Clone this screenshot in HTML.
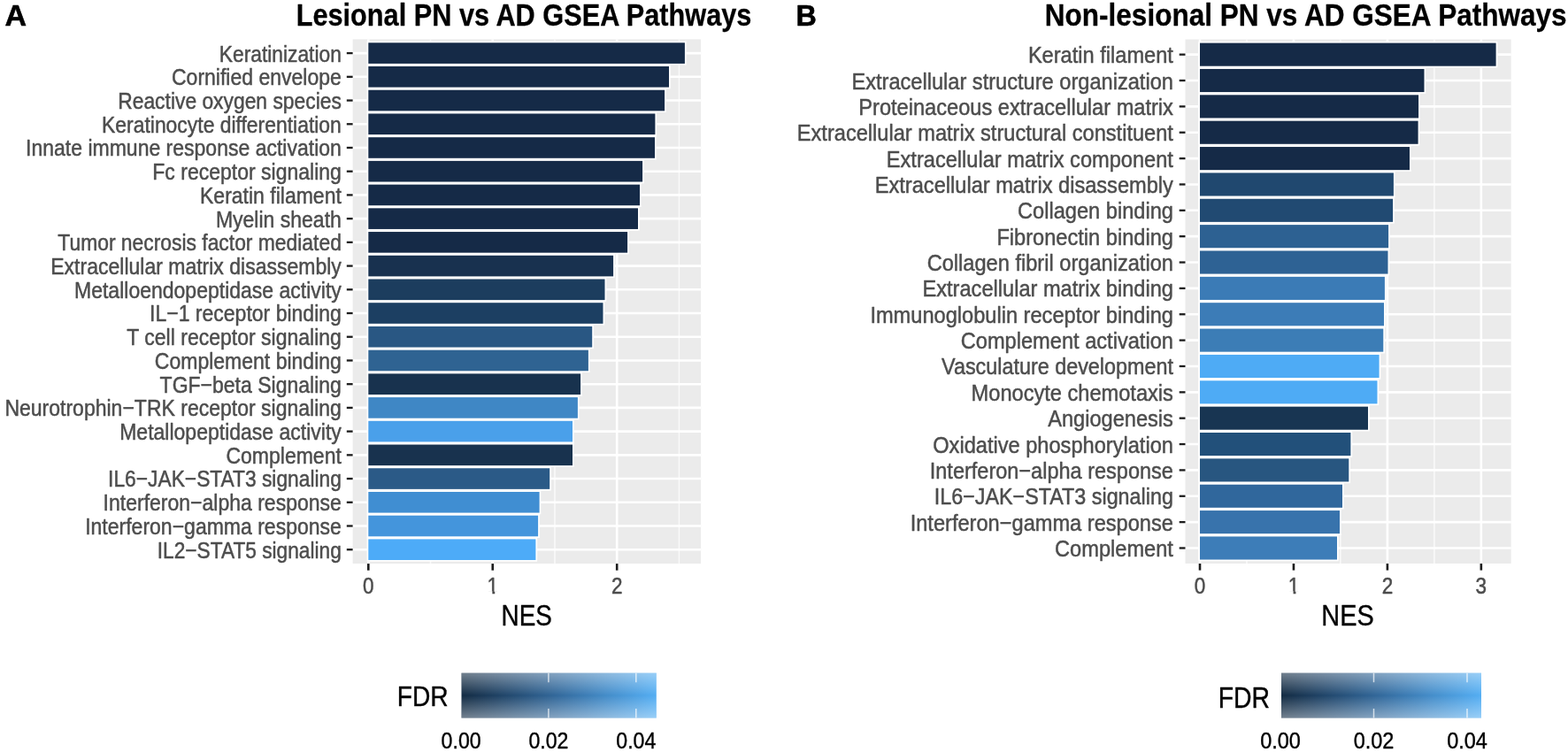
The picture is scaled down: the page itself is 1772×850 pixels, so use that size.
<!DOCTYPE html>
<html lang="en">
<head>
<meta charset="utf-8">
<title>GSEA Pathways: Lesional and Non-lesional PN vs AD</title>
<style>
html,body{margin:0;padding:0;background:#fff;}
body{width:1772px;height:850px;overflow:hidden;}
svg{display:block;filter:blur(0.4px);}
text{font-family:'Liberation Sans', sans-serif;}
</style>
</head>
<body>
<svg width="1772" height="850" viewBox="0 0 1772 850" role="img" aria-label="GSEA pathway bar charts">
<defs>
<linearGradient id="gh" x1="0" x2="1" y1="0" y2="0">
<stop offset="0" stop-color="#132b43"/>
<stop offset="0.25" stop-color="#234a70"/>
<stop offset="0.5" stop-color="#336a9d"/>
<stop offset="0.75" stop-color="#448dca"/>
<stop offset="1" stop-color="#54aef3"/>
</linearGradient>
<linearGradient id="gv" x1="0" x2="0" y1="0" y2="1">
<stop offset="0" stop-color="#fff" stop-opacity=".4"/>
<stop offset="0.5" stop-color="#fff" stop-opacity="0"/>
<stop offset="1" stop-color="#fff" stop-opacity=".4"/>
</linearGradient>
</defs>
<rect width="1772" height="850" fill="#fff"/>
<g id="panelA">
<rect x="398.6" y="44.4" width="393.5" height="592.7" fill="#ebebeb"/>
<line x1="486.52" x2="486.52" y1="44.4" y2="637.1" stroke="#fafafa" stroke-width="1.5"/>
<line x1="626.98" x2="626.98" y1="44.4" y2="637.1" stroke="#fafafa" stroke-width="1.5"/>
<line x1="767.42" x2="767.42" y1="44.4" y2="637.1" stroke="#fafafa" stroke-width="1.5"/>
<line x1="416.3" x2="416.3" y1="44.4" y2="637.1" stroke="#fff" stroke-width="2.6"/>
<line x1="556.75" x2="556.75" y1="44.4" y2="637.1" stroke="#fff" stroke-width="2.6"/>
<line x1="697.2" x2="697.2" y1="44.4" y2="637.1" stroke="#fff" stroke-width="2.6"/>
<line x1="398.6" x2="792.1" y1="60.1" y2="60.1" stroke="#fff" stroke-width="2.6"/>
<line x1="398.6" x2="792.1" y1="86.82" y2="86.82" stroke="#fff" stroke-width="2.6"/>
<line x1="398.6" x2="792.1" y1="113.54" y2="113.54" stroke="#fff" stroke-width="2.6"/>
<line x1="398.6" x2="792.1" y1="140.26" y2="140.26" stroke="#fff" stroke-width="2.6"/>
<line x1="398.6" x2="792.1" y1="166.98" y2="166.98" stroke="#fff" stroke-width="2.6"/>
<line x1="398.6" x2="792.1" y1="193.7" y2="193.7" stroke="#fff" stroke-width="2.6"/>
<line x1="398.6" x2="792.1" y1="220.42" y2="220.42" stroke="#fff" stroke-width="2.6"/>
<line x1="398.6" x2="792.1" y1="247.14" y2="247.14" stroke="#fff" stroke-width="2.6"/>
<line x1="398.6" x2="792.1" y1="273.86" y2="273.86" stroke="#fff" stroke-width="2.6"/>
<line x1="398.6" x2="792.1" y1="300.58" y2="300.58" stroke="#fff" stroke-width="2.6"/>
<line x1="398.6" x2="792.1" y1="327.3" y2="327.3" stroke="#fff" stroke-width="2.6"/>
<line x1="398.6" x2="792.1" y1="354.02" y2="354.02" stroke="#fff" stroke-width="2.6"/>
<line x1="398.6" x2="792.1" y1="380.74" y2="380.74" stroke="#fff" stroke-width="2.6"/>
<line x1="398.6" x2="792.1" y1="407.46" y2="407.46" stroke="#fff" stroke-width="2.6"/>
<line x1="398.6" x2="792.1" y1="434.18" y2="434.18" stroke="#fff" stroke-width="2.6"/>
<line x1="398.6" x2="792.1" y1="460.9" y2="460.9" stroke="#fff" stroke-width="2.6"/>
<line x1="398.6" x2="792.1" y1="487.62" y2="487.62" stroke="#fff" stroke-width="2.6"/>
<line x1="398.6" x2="792.1" y1="514.34" y2="514.34" stroke="#fff" stroke-width="2.6"/>
<line x1="398.6" x2="792.1" y1="541.06" y2="541.06" stroke="#fff" stroke-width="2.6"/>
<line x1="398.6" x2="792.1" y1="567.78" y2="567.78" stroke="#fff" stroke-width="2.6"/>
<line x1="398.6" x2="792.1" y1="594.5" y2="594.5" stroke="#fff" stroke-width="2.6"/>
<line x1="398.6" x2="792.1" y1="621.22" y2="621.22" stroke="#fff" stroke-width="2.6"/>
<rect x="414.6" y="46.6" width="361" height="27" fill="#fff"/>
<rect x="414.6" y="73.32" width="343.1" height="27" fill="#fff"/>
<rect x="414.6" y="100.04" width="338.2" height="27" fill="#fff"/>
<rect x="414.6" y="126.76" width="327.5" height="27" fill="#fff"/>
<rect x="414.6" y="153.48" width="327.1" height="27" fill="#fff"/>
<rect x="414.6" y="180.2" width="313.2" height="27" fill="#fff"/>
<rect x="414.6" y="206.92" width="310.1" height="27" fill="#fff"/>
<rect x="414.6" y="233.64" width="308.1" height="27" fill="#fff"/>
<rect x="414.6" y="260.36" width="296.2" height="27" fill="#fff"/>
<rect x="414.6" y="287.08" width="280.2" height="27" fill="#fff"/>
<rect x="414.6" y="313.8" width="270.6" height="27" fill="#fff"/>
<rect x="414.6" y="340.52" width="268.6" height="27" fill="#fff"/>
<rect x="414.6" y="367.24" width="256.3" height="27" fill="#fff"/>
<rect x="414.6" y="393.96" width="252" height="27" fill="#fff"/>
<rect x="414.6" y="420.68" width="243.2" height="27" fill="#fff"/>
<rect x="414.6" y="447.4" width="240" height="27" fill="#fff"/>
<rect x="414.6" y="474.12" width="234.1" height="27" fill="#fff"/>
<rect x="414.6" y="500.84" width="234.1" height="27" fill="#fff"/>
<rect x="414.6" y="527.56" width="208.3" height="27" fill="#fff"/>
<rect x="414.6" y="554.28" width="196.7" height="27" fill="#fff"/>
<rect x="414.6" y="581" width="195.2" height="27" fill="#fff"/>
<rect x="414.6" y="607.72" width="192.5" height="27" fill="#fff"/>
<rect x="416.3" y="48.3" width="357.6" height="23.6" fill="#152a47"/>
<rect x="416.3" y="75.02" width="339.7" height="23.6" fill="#152a47"/>
<rect x="416.3" y="101.74" width="334.8" height="23.6" fill="#152a47"/>
<rect x="416.3" y="128.46" width="324.1" height="23.6" fill="#152a47"/>
<rect x="416.3" y="155.18" width="323.7" height="23.6" fill="#152a47"/>
<rect x="416.3" y="181.9" width="309.8" height="23.6" fill="#152a47"/>
<rect x="416.3" y="208.62" width="306.7" height="23.6" fill="#152a47"/>
<rect x="416.3" y="235.34" width="304.7" height="23.6" fill="#152a47"/>
<rect x="416.3" y="262.06" width="292.8" height="23.6" fill="#152a47"/>
<rect x="416.3" y="288.78" width="276.8" height="23.6" fill="#18314f"/>
<rect x="416.3" y="315.5" width="267.2" height="23.6" fill="#1c3d5e"/>
<rect x="416.3" y="342.22" width="265.2" height="23.6" fill="#1c3f62"/>
<rect x="416.3" y="368.94" width="252.9" height="23.6" fill="#295783"/>
<rect x="416.3" y="395.66" width="248.6" height="23.6" fill="#2f6392"/>
<rect x="416.3" y="422.38" width="239.8" height="23.6" fill="#18324e"/>
<rect x="416.3" y="449.1" width="236.6" height="23.6" fill="#3f87c5"/>
<rect x="416.3" y="475.82" width="230.7" height="23.6" fill="#4aa0ea"/>
<rect x="416.3" y="502.54" width="230.7" height="23.6" fill="#18324e"/>
<rect x="416.3" y="529.26" width="204.9" height="23.6" fill="#2b5a87"/>
<rect x="416.3" y="555.98" width="193.3" height="23.6" fill="#408ed2"/>
<rect x="416.3" y="582.7" width="191.8" height="23.6" fill="#4495dc"/>
<rect x="416.3" y="609.42" width="189.1" height="23.6" fill="#4dabf8"/>
<line x1="391.8" x2="398.6" y1="60.1" y2="60.1" stroke="#1c1c1c" stroke-width="2.3"/>
<line x1="391.8" x2="398.6" y1="86.82" y2="86.82" stroke="#1c1c1c" stroke-width="2.3"/>
<line x1="391.8" x2="398.6" y1="113.54" y2="113.54" stroke="#1c1c1c" stroke-width="2.3"/>
<line x1="391.8" x2="398.6" y1="140.26" y2="140.26" stroke="#1c1c1c" stroke-width="2.3"/>
<line x1="391.8" x2="398.6" y1="166.98" y2="166.98" stroke="#1c1c1c" stroke-width="2.3"/>
<line x1="391.8" x2="398.6" y1="193.7" y2="193.7" stroke="#1c1c1c" stroke-width="2.3"/>
<line x1="391.8" x2="398.6" y1="220.42" y2="220.42" stroke="#1c1c1c" stroke-width="2.3"/>
<line x1="391.8" x2="398.6" y1="247.14" y2="247.14" stroke="#1c1c1c" stroke-width="2.3"/>
<line x1="391.8" x2="398.6" y1="273.86" y2="273.86" stroke="#1c1c1c" stroke-width="2.3"/>
<line x1="391.8" x2="398.6" y1="300.58" y2="300.58" stroke="#1c1c1c" stroke-width="2.3"/>
<line x1="391.8" x2="398.6" y1="327.3" y2="327.3" stroke="#1c1c1c" stroke-width="2.3"/>
<line x1="391.8" x2="398.6" y1="354.02" y2="354.02" stroke="#1c1c1c" stroke-width="2.3"/>
<line x1="391.8" x2="398.6" y1="380.74" y2="380.74" stroke="#1c1c1c" stroke-width="2.3"/>
<line x1="391.8" x2="398.6" y1="407.46" y2="407.46" stroke="#1c1c1c" stroke-width="2.3"/>
<line x1="391.8" x2="398.6" y1="434.18" y2="434.18" stroke="#1c1c1c" stroke-width="2.3"/>
<line x1="391.8" x2="398.6" y1="460.9" y2="460.9" stroke="#1c1c1c" stroke-width="2.3"/>
<line x1="391.8" x2="398.6" y1="487.62" y2="487.62" stroke="#1c1c1c" stroke-width="2.3"/>
<line x1="391.8" x2="398.6" y1="514.34" y2="514.34" stroke="#1c1c1c" stroke-width="2.3"/>
<line x1="391.8" x2="398.6" y1="541.06" y2="541.06" stroke="#1c1c1c" stroke-width="2.3"/>
<line x1="391.8" x2="398.6" y1="567.78" y2="567.78" stroke="#1c1c1c" stroke-width="2.3"/>
<line x1="391.8" x2="398.6" y1="594.5" y2="594.5" stroke="#1c1c1c" stroke-width="2.3"/>
<line x1="391.8" x2="398.6" y1="621.22" y2="621.22" stroke="#1c1c1c" stroke-width="2.3"/>
<text transform="translate(385.85 69.5) scale(0.8770 1)" font-size="26" fill="#4d4d4d" stroke="#4d4d4d" stroke-width="0.5" stroke-linejoin="round" text-anchor="end">Keratinization</text>
<text transform="translate(385.85 96.22) scale(0.8850 1)" font-size="26" fill="#4d4d4d" stroke="#4d4d4d" stroke-width="0.5" stroke-linejoin="round" text-anchor="end">Cornified envelope</text>
<text transform="translate(385.85 122.94) scale(0.8784 1)" font-size="26" fill="#4d4d4d" stroke="#4d4d4d" stroke-width="0.5" stroke-linejoin="round" text-anchor="end">Reactive oxygen species</text>
<text transform="translate(385.85 149.66) scale(0.8811 1)" font-size="26" fill="#4d4d4d" stroke="#4d4d4d" stroke-width="0.5" stroke-linejoin="round" text-anchor="end">Keratinocyte differentiation</text>
<text transform="translate(385.85 176.38) scale(0.8850 1)" font-size="26" fill="#4d4d4d" stroke="#4d4d4d" stroke-width="0.5" stroke-linejoin="round" text-anchor="end">Innate immune response activation</text>
<text transform="translate(385.85 203.1) scale(0.8850 1)" font-size="26" fill="#4d4d4d" stroke="#4d4d4d" stroke-width="0.5" stroke-linejoin="round" text-anchor="end">Fc receptor signaling</text>
<text transform="translate(385.85 229.82) scale(0.8850 1)" font-size="26" fill="#4d4d4d" stroke="#4d4d4d" stroke-width="0.5" stroke-linejoin="round" text-anchor="end">Keratin filament</text>
<text transform="translate(385.85 256.54) scale(0.8850 1)" font-size="26" fill="#4d4d4d" stroke="#4d4d4d" stroke-width="0.5" stroke-linejoin="round" text-anchor="end">Myelin sheath</text>
<text transform="translate(385.85 283.26) scale(0.8797 1)" font-size="26" fill="#4d4d4d" stroke="#4d4d4d" stroke-width="0.5" stroke-linejoin="round" text-anchor="end">Tumor necrosis factor mediated</text>
<text transform="translate(385.85 309.98) scale(0.8850 1)" font-size="26" fill="#4d4d4d" stroke="#4d4d4d" stroke-width="0.5" stroke-linejoin="round" text-anchor="end">Extracellular matrix disassembly</text>
<text transform="translate(385.85 336.7) scale(0.8850 1)" font-size="26" fill="#4d4d4d" stroke="#4d4d4d" stroke-width="0.5" stroke-linejoin="round" text-anchor="end">Metalloendopeptidase activity</text>
<text transform="translate(385.85 363.42) scale(0.8850 1)" font-size="26" fill="#4d4d4d" stroke="#4d4d4d" stroke-width="0.5" stroke-linejoin="round" text-anchor="end">IL−1 receptor binding</text>
<text transform="translate(385.85 390.14) scale(0.8850 1)" font-size="26" fill="#4d4d4d" stroke="#4d4d4d" stroke-width="0.5" stroke-linejoin="round" text-anchor="end">T cell receptor signaling</text>
<text transform="translate(385.85 416.86) scale(0.8850 1)" font-size="26" fill="#4d4d4d" stroke="#4d4d4d" stroke-width="0.5" stroke-linejoin="round" text-anchor="end">Complement binding</text>
<text transform="translate(385.85 443.58) scale(0.8850 1)" font-size="26" fill="#4d4d4d" stroke="#4d4d4d" stroke-width="0.5" stroke-linejoin="round" text-anchor="end">TGF−beta Signaling</text>
<text transform="translate(385.85 470.3) scale(0.8850 1)" font-size="26" fill="#4d4d4d" stroke="#4d4d4d" stroke-width="0.5" stroke-linejoin="round" text-anchor="end">Neurotrophin−TRK receptor signaling</text>
<text transform="translate(385.85 497.02) scale(0.8850 1)" font-size="26" fill="#4d4d4d" stroke="#4d4d4d" stroke-width="0.5" stroke-linejoin="round" text-anchor="end">Metallopeptidase activity</text>
<text transform="translate(385.85 523.74) scale(0.8850 1)" font-size="26" fill="#4d4d4d" stroke="#4d4d4d" stroke-width="0.5" stroke-linejoin="round" text-anchor="end">Complement</text>
<text transform="translate(385.85 550.46) scale(0.8761 1)" font-size="26" fill="#4d4d4d" stroke="#4d4d4d" stroke-width="0.5" stroke-linejoin="round" text-anchor="end">IL6−JAK−STAT3 signaling</text>
<text transform="translate(385.85 577.18) scale(0.8850 1)" font-size="26" fill="#4d4d4d" stroke="#4d4d4d" stroke-width="0.5" stroke-linejoin="round" text-anchor="end">Interferon−alpha response</text>
<text transform="translate(385.85 603.9) scale(0.8850 1)" font-size="26" fill="#4d4d4d" stroke="#4d4d4d" stroke-width="0.5" stroke-linejoin="round" text-anchor="end">Interferon−gamma response</text>
<text transform="translate(385.85 630.62) scale(0.8739 1)" font-size="26" fill="#4d4d4d" stroke="#4d4d4d" stroke-width="0.5" stroke-linejoin="round" text-anchor="end">IL2−STAT5 signaling</text>
<line x1="416.3" x2="416.3" y1="637.1" y2="644.7" stroke="#1c1c1c" stroke-width="2.6"/>
<text transform="translate(416.3 670.7) scale(0.9000 1)" font-size="25" fill="#4d4d4d" stroke="#4d4d4d" stroke-width="0.5" stroke-linejoin="round" text-anchor="middle">0</text>
<line x1="556.75" x2="556.75" y1="637.1" y2="644.7" stroke="#1c1c1c" stroke-width="2.6"/>
<text transform="translate(556.75 670.7) scale(0.9000 1)" font-size="25" fill="#4d4d4d" stroke="#4d4d4d" stroke-width="0.5" stroke-linejoin="round" text-anchor="middle">1</text>
<rect x="550.75" y="668.25" width="5.6" height="4.6" fill="#fff"/>
<rect x="559.25" y="668.25" width="5.6" height="4.6" fill="#fff"/>
<line x1="697.2" x2="697.2" y1="637.1" y2="644.7" stroke="#1c1c1c" stroke-width="2.6"/>
<text transform="translate(697.2 670.7) scale(0.9000 1)" font-size="25" fill="#4d4d4d" stroke="#4d4d4d" stroke-width="0.5" stroke-linejoin="round" text-anchor="middle">2</text>
<text transform="translate(595.2 706.5) scale(0.8360 1)" font-size="33.3" fill="#000" stroke="#000" stroke-width="0.4" stroke-linejoin="round" text-anchor="middle">NES</text>
<text transform="translate(849.4 29) scale(0.8650 1)" font-size="35.5" fill="#000" stroke="#000" stroke-width="0.3" stroke-linejoin="round" text-anchor="end" font-weight="bold">Lesional PN vs AD GSEA Pathways</text>
<text transform="translate(5.4 29.1)" font-size="34" fill="#000" stroke="#000" stroke-width="0.6" stroke-linejoin="round" font-weight="bold">A</text>
<rect x="521.5" y="760.7" width="220.3" height="50.8" fill="url(#gh)"/>
<rect x="521.5" y="760.7" width="220.3" height="50.8" fill="url(#gv)"/>
<line x1="619.9" x2="619.9" y1="760.7" y2="771.2" stroke="#fff" stroke-opacity=".7" stroke-width="1.5"/>
<line x1="619.9" x2="619.9" y1="801" y2="811.5" stroke="#fff" stroke-opacity=".7" stroke-width="1.5"/>
<line x1="718.8" x2="718.8" y1="760.7" y2="771.2" stroke="#fff" stroke-opacity=".7" stroke-width="1.5"/>
<line x1="718.8" x2="718.8" y1="801" y2="811.5" stroke="#fff" stroke-opacity=".7" stroke-width="1.5"/>
<text transform="translate(506.6 797.6) scale(0.8750 1)" font-size="32.2" fill="#000" stroke="#000" stroke-width="0.4" stroke-linejoin="round" text-anchor="end">FDR</text>
<text transform="translate(521.1 846.1) scale(0.8960 1)" font-size="25.8" fill="#000" stroke="#000" stroke-width="0.4" stroke-linejoin="round" text-anchor="middle">0.00</text>
<text transform="translate(619.9 846.1) scale(0.8960 1)" font-size="25.8" fill="#000" stroke="#000" stroke-width="0.4" stroke-linejoin="round" text-anchor="middle">0.02</text>
<text transform="translate(718.8 846.1) scale(0.8960 1)" font-size="25.8" fill="#000" stroke="#000" stroke-width="0.4" stroke-linejoin="round" text-anchor="middle">0.04</text>
</g>
<g id="panelB">
<rect x="1339.5" y="44.5" width="368.2" height="592.5" fill="#ebebeb"/>
<line x1="1408.97" x2="1408.97" y1="44.5" y2="637" stroke="#fafafa" stroke-width="1.5"/>
<line x1="1514.92" x2="1514.92" y1="44.5" y2="637" stroke="#fafafa" stroke-width="1.5"/>
<line x1="1620.88" x2="1620.88" y1="44.5" y2="637" stroke="#fafafa" stroke-width="1.5"/>
<line x1="1356" x2="1356" y1="44.5" y2="637" stroke="#fff" stroke-width="2.6"/>
<line x1="1461.95" x2="1461.95" y1="44.5" y2="637" stroke="#fff" stroke-width="2.6"/>
<line x1="1567.9" x2="1567.9" y1="44.5" y2="637" stroke="#fff" stroke-width="2.6"/>
<line x1="1673.85" x2="1673.85" y1="44.5" y2="637" stroke="#fff" stroke-width="2.6"/>
<line x1="1339.5" x2="1707.7" y1="61.65" y2="61.65" stroke="#fff" stroke-width="2.6"/>
<line x1="1339.5" x2="1707.7" y1="91.01" y2="91.01" stroke="#fff" stroke-width="2.6"/>
<line x1="1339.5" x2="1707.7" y1="120.37" y2="120.37" stroke="#fff" stroke-width="2.6"/>
<line x1="1339.5" x2="1707.7" y1="149.73" y2="149.73" stroke="#fff" stroke-width="2.6"/>
<line x1="1339.5" x2="1707.7" y1="179.09" y2="179.09" stroke="#fff" stroke-width="2.6"/>
<line x1="1339.5" x2="1707.7" y1="208.45" y2="208.45" stroke="#fff" stroke-width="2.6"/>
<line x1="1339.5" x2="1707.7" y1="237.81" y2="237.81" stroke="#fff" stroke-width="2.6"/>
<line x1="1339.5" x2="1707.7" y1="267.17" y2="267.17" stroke="#fff" stroke-width="2.6"/>
<line x1="1339.5" x2="1707.7" y1="296.53" y2="296.53" stroke="#fff" stroke-width="2.6"/>
<line x1="1339.5" x2="1707.7" y1="325.89" y2="325.89" stroke="#fff" stroke-width="2.6"/>
<line x1="1339.5" x2="1707.7" y1="355.25" y2="355.25" stroke="#fff" stroke-width="2.6"/>
<line x1="1339.5" x2="1707.7" y1="384.61" y2="384.61" stroke="#fff" stroke-width="2.6"/>
<line x1="1339.5" x2="1707.7" y1="413.97" y2="413.97" stroke="#fff" stroke-width="2.6"/>
<line x1="1339.5" x2="1707.7" y1="443.33" y2="443.33" stroke="#fff" stroke-width="2.6"/>
<line x1="1339.5" x2="1707.7" y1="472.69" y2="472.69" stroke="#fff" stroke-width="2.6"/>
<line x1="1339.5" x2="1707.7" y1="502.05" y2="502.05" stroke="#fff" stroke-width="2.6"/>
<line x1="1339.5" x2="1707.7" y1="531.41" y2="531.41" stroke="#fff" stroke-width="2.6"/>
<line x1="1339.5" x2="1707.7" y1="560.77" y2="560.77" stroke="#fff" stroke-width="2.6"/>
<line x1="1339.5" x2="1707.7" y1="590.13" y2="590.13" stroke="#fff" stroke-width="2.6"/>
<line x1="1339.5" x2="1707.7" y1="619.49" y2="619.49" stroke="#fff" stroke-width="2.6"/>
<rect x="1354.3" y="46.9" width="338" height="29.5" fill="#fff"/>
<rect x="1354.3" y="76.26" width="256.9" height="29.5" fill="#fff"/>
<rect x="1354.3" y="105.62" width="250.5" height="29.5" fill="#fff"/>
<rect x="1354.3" y="134.98" width="250" height="29.5" fill="#fff"/>
<rect x="1354.3" y="164.34" width="240.4" height="29.5" fill="#fff"/>
<rect x="1354.3" y="193.7" width="222.3" height="29.5" fill="#fff"/>
<rect x="1354.3" y="223.06" width="221.5" height="29.5" fill="#fff"/>
<rect x="1354.3" y="252.42" width="216.5" height="29.5" fill="#fff"/>
<rect x="1354.3" y="281.78" width="215.9" height="29.5" fill="#fff"/>
<rect x="1354.3" y="311.14" width="212.3" height="29.5" fill="#fff"/>
<rect x="1354.3" y="340.5" width="211.4" height="29.5" fill="#fff"/>
<rect x="1354.3" y="369.86" width="210.7" height="29.5" fill="#fff"/>
<rect x="1354.3" y="399.22" width="206" height="29.5" fill="#fff"/>
<rect x="1354.3" y="428.58" width="203.9" height="29.5" fill="#fff"/>
<rect x="1354.3" y="457.94" width="193.4" height="29.5" fill="#fff"/>
<rect x="1354.3" y="487.3" width="173.8" height="29.5" fill="#fff"/>
<rect x="1354.3" y="516.66" width="171.7" height="29.5" fill="#fff"/>
<rect x="1354.3" y="546.02" width="164.4" height="29.5" fill="#fff"/>
<rect x="1354.3" y="575.38" width="161.4" height="29.5" fill="#fff"/>
<rect x="1354.3" y="604.74" width="158.4" height="29.5" fill="#fff"/>
<rect x="1356" y="48.6" width="334.6" height="26.1" fill="#152a47"/>
<rect x="1356" y="77.96" width="253.5" height="26.1" fill="#152a47"/>
<rect x="1356" y="107.32" width="247.1" height="26.1" fill="#152a47"/>
<rect x="1356" y="136.68" width="246.6" height="26.1" fill="#152a47"/>
<rect x="1356" y="166.04" width="237" height="26.1" fill="#152a47"/>
<rect x="1356" y="195.4" width="218.9" height="26.1" fill="#20486f"/>
<rect x="1356" y="224.76" width="218.1" height="26.1" fill="#214a72"/>
<rect x="1356" y="254.12" width="213.1" height="26.1" fill="#2d6192"/>
<rect x="1356" y="283.48" width="212.5" height="26.1" fill="#2e6294"/>
<rect x="1356" y="312.84" width="208.9" height="26.1" fill="#3b7bb6"/>
<rect x="1356" y="342.2" width="208" height="26.1" fill="#3c7cb7"/>
<rect x="1356" y="371.56" width="207.3" height="26.1" fill="#3c7db6"/>
<rect x="1356" y="400.92" width="202.6" height="26.1" fill="#4eabf5"/>
<rect x="1356" y="430.28" width="200.5" height="26.1" fill="#4eabf5"/>
<rect x="1356" y="459.64" width="190" height="26.1" fill="#183552"/>
<rect x="1356" y="489" width="170.4" height="26.1" fill="#22507a"/>
<rect x="1356" y="518.36" width="168.3" height="26.1" fill="#285680"/>
<rect x="1356" y="547.72" width="161" height="26.1" fill="#30679c"/>
<rect x="1356" y="577.08" width="158" height="26.1" fill="#3873ac"/>
<rect x="1356" y="606.44" width="155" height="26.1" fill="#3d7db8"/>
<line x1="1332.7" x2="1339.5" y1="61.65" y2="61.65" stroke="#1c1c1c" stroke-width="2.3"/>
<line x1="1332.7" x2="1339.5" y1="91.01" y2="91.01" stroke="#1c1c1c" stroke-width="2.3"/>
<line x1="1332.7" x2="1339.5" y1="120.37" y2="120.37" stroke="#1c1c1c" stroke-width="2.3"/>
<line x1="1332.7" x2="1339.5" y1="149.73" y2="149.73" stroke="#1c1c1c" stroke-width="2.3"/>
<line x1="1332.7" x2="1339.5" y1="179.09" y2="179.09" stroke="#1c1c1c" stroke-width="2.3"/>
<line x1="1332.7" x2="1339.5" y1="208.45" y2="208.45" stroke="#1c1c1c" stroke-width="2.3"/>
<line x1="1332.7" x2="1339.5" y1="237.81" y2="237.81" stroke="#1c1c1c" stroke-width="2.3"/>
<line x1="1332.7" x2="1339.5" y1="267.17" y2="267.17" stroke="#1c1c1c" stroke-width="2.3"/>
<line x1="1332.7" x2="1339.5" y1="296.53" y2="296.53" stroke="#1c1c1c" stroke-width="2.3"/>
<line x1="1332.7" x2="1339.5" y1="325.89" y2="325.89" stroke="#1c1c1c" stroke-width="2.3"/>
<line x1="1332.7" x2="1339.5" y1="355.25" y2="355.25" stroke="#1c1c1c" stroke-width="2.3"/>
<line x1="1332.7" x2="1339.5" y1="384.61" y2="384.61" stroke="#1c1c1c" stroke-width="2.3"/>
<line x1="1332.7" x2="1339.5" y1="413.97" y2="413.97" stroke="#1c1c1c" stroke-width="2.3"/>
<line x1="1332.7" x2="1339.5" y1="443.33" y2="443.33" stroke="#1c1c1c" stroke-width="2.3"/>
<line x1="1332.7" x2="1339.5" y1="472.69" y2="472.69" stroke="#1c1c1c" stroke-width="2.3"/>
<line x1="1332.7" x2="1339.5" y1="502.05" y2="502.05" stroke="#1c1c1c" stroke-width="2.3"/>
<line x1="1332.7" x2="1339.5" y1="531.41" y2="531.41" stroke="#1c1c1c" stroke-width="2.3"/>
<line x1="1332.7" x2="1339.5" y1="560.77" y2="560.77" stroke="#1c1c1c" stroke-width="2.3"/>
<line x1="1332.7" x2="1339.5" y1="590.13" y2="590.13" stroke="#1c1c1c" stroke-width="2.3"/>
<line x1="1332.7" x2="1339.5" y1="619.49" y2="619.49" stroke="#1c1c1c" stroke-width="2.3"/>
<text transform="translate(1325.9 71.15) scale(0.8880 1)" font-size="26.6" fill="#4d4d4d" stroke="#4d4d4d" stroke-width="0.5" stroke-linejoin="round" text-anchor="end">Keratin filament</text>
<text transform="translate(1325.9 100.51) scale(0.8880 1)" font-size="26.6" fill="#4d4d4d" stroke="#4d4d4d" stroke-width="0.5" stroke-linejoin="round" text-anchor="end">Extracellular structure organization</text>
<text transform="translate(1325.9 129.87) scale(0.8880 1)" font-size="26.6" fill="#4d4d4d" stroke="#4d4d4d" stroke-width="0.5" stroke-linejoin="round" text-anchor="end">Proteinaceous extracellular matrix</text>
<text transform="translate(1325.9 159.23) scale(0.8880 1)" font-size="26.6" fill="#4d4d4d" stroke="#4d4d4d" stroke-width="0.5" stroke-linejoin="round" text-anchor="end">Extracellular matrix structural constituent</text>
<text transform="translate(1325.9 188.59) scale(0.8880 1)" font-size="26.6" fill="#4d4d4d" stroke="#4d4d4d" stroke-width="0.5" stroke-linejoin="round" text-anchor="end">Extracellular matrix component</text>
<text transform="translate(1325.9 217.95) scale(0.8880 1)" font-size="26.6" fill="#4d4d4d" stroke="#4d4d4d" stroke-width="0.5" stroke-linejoin="round" text-anchor="end">Extracellular matrix disassembly</text>
<text transform="translate(1325.9 247.31) scale(0.8880 1)" font-size="26.6" fill="#4d4d4d" stroke="#4d4d4d" stroke-width="0.5" stroke-linejoin="round" text-anchor="end">Collagen binding</text>
<text transform="translate(1325.9 276.67) scale(0.8880 1)" font-size="26.6" fill="#4d4d4d" stroke="#4d4d4d" stroke-width="0.5" stroke-linejoin="round" text-anchor="end">Fibronectin binding</text>
<text transform="translate(1325.9 306.03) scale(0.8880 1)" font-size="26.6" fill="#4d4d4d" stroke="#4d4d4d" stroke-width="0.5" stroke-linejoin="round" text-anchor="end">Collagen fibril organization</text>
<text transform="translate(1325.9 335.39) scale(0.8880 1)" font-size="26.6" fill="#4d4d4d" stroke="#4d4d4d" stroke-width="0.5" stroke-linejoin="round" text-anchor="end">Extracellular matrix binding</text>
<text transform="translate(1325.9 364.75) scale(0.8880 1)" font-size="26.6" fill="#4d4d4d" stroke="#4d4d4d" stroke-width="0.5" stroke-linejoin="round" text-anchor="end">Immunoglobulin receptor binding</text>
<text transform="translate(1325.9 394.11) scale(0.8880 1)" font-size="26.6" fill="#4d4d4d" stroke="#4d4d4d" stroke-width="0.5" stroke-linejoin="round" text-anchor="end">Complement activation</text>
<text transform="translate(1325.9 423.47) scale(0.8787 1)" font-size="26.6" fill="#4d4d4d" stroke="#4d4d4d" stroke-width="0.5" stroke-linejoin="round" text-anchor="end">Vasculature development</text>
<text transform="translate(1325.9 452.83) scale(0.8880 1)" font-size="26.6" fill="#4d4d4d" stroke="#4d4d4d" stroke-width="0.5" stroke-linejoin="round" text-anchor="end">Monocyte chemotaxis</text>
<text transform="translate(1325.9 482.19) scale(0.8880 1)" font-size="26.6" fill="#4d4d4d" stroke="#4d4d4d" stroke-width="0.5" stroke-linejoin="round" text-anchor="end">Angiogenesis</text>
<text transform="translate(1325.9 511.55) scale(0.8880 1)" font-size="26.6" fill="#4d4d4d" stroke="#4d4d4d" stroke-width="0.5" stroke-linejoin="round" text-anchor="end">Oxidative phosphorylation</text>
<text transform="translate(1325.9 540.91) scale(0.8844 1)" font-size="26.6" fill="#4d4d4d" stroke="#4d4d4d" stroke-width="0.5" stroke-linejoin="round" text-anchor="end">Interferon−alpha response</text>
<text transform="translate(1325.9 570.27) scale(0.8773 1)" font-size="26.6" fill="#4d4d4d" stroke="#4d4d4d" stroke-width="0.5" stroke-linejoin="round" text-anchor="end">IL6−JAK−STAT3 signaling</text>
<text transform="translate(1325.9 599.63) scale(0.8880 1)" font-size="26.6" fill="#4d4d4d" stroke="#4d4d4d" stroke-width="0.5" stroke-linejoin="round" text-anchor="end">Interferon−gamma response</text>
<text transform="translate(1325.9 628.99) scale(0.8880 1)" font-size="26.6" fill="#4d4d4d" stroke="#4d4d4d" stroke-width="0.5" stroke-linejoin="round" text-anchor="end">Complement</text>
<line x1="1356" x2="1356" y1="637" y2="644.6" stroke="#1c1c1c" stroke-width="2.6"/>
<text transform="translate(1356 670.7) scale(0.9000 1)" font-size="25" fill="#4d4d4d" stroke="#4d4d4d" stroke-width="0.5" stroke-linejoin="round" text-anchor="middle">0</text>
<line x1="1461.95" x2="1461.95" y1="637" y2="644.6" stroke="#1c1c1c" stroke-width="2.6"/>
<text transform="translate(1461.95 670.7) scale(0.9000 1)" font-size="25" fill="#4d4d4d" stroke="#4d4d4d" stroke-width="0.5" stroke-linejoin="round" text-anchor="middle">1</text>
<rect x="1455.95" y="668.25" width="5.6" height="4.6" fill="#fff"/>
<rect x="1464.45" y="668.25" width="5.6" height="4.6" fill="#fff"/>
<line x1="1567.9" x2="1567.9" y1="637" y2="644.6" stroke="#1c1c1c" stroke-width="2.6"/>
<text transform="translate(1567.9 670.7) scale(0.9000 1)" font-size="25" fill="#4d4d4d" stroke="#4d4d4d" stroke-width="0.5" stroke-linejoin="round" text-anchor="middle">2</text>
<line x1="1673.85" x2="1673.85" y1="637" y2="644.6" stroke="#1c1c1c" stroke-width="2.6"/>
<text transform="translate(1673.85 670.7) scale(0.9000 1)" font-size="25" fill="#4d4d4d" stroke="#4d4d4d" stroke-width="0.5" stroke-linejoin="round" text-anchor="middle">3</text>
<text transform="translate(1523 706.5) scale(0.8680 1)" font-size="33.3" fill="#000" stroke="#000" stroke-width="0.4" stroke-linejoin="round" text-anchor="middle">NES</text>
<text transform="translate(1770.6 29.4) scale(0.8885 1)" font-size="35.5" fill="#000" stroke="#000" stroke-width="0.3" stroke-linejoin="round" text-anchor="end" font-weight="bold">Non-lesional PN vs AD GSEA Pathways</text>
<text transform="translate(899.6 29.1) scale(0.9500 1)" font-size="34" fill="#000" stroke="#000" stroke-width="0.6" stroke-linejoin="round" font-weight="bold">B</text>
<rect x="1448" y="760.7" width="226" height="50.8" fill="url(#gh)"/>
<rect x="1448" y="760.7" width="226" height="50.8" fill="url(#gv)"/>
<line x1="1552.5" x2="1552.5" y1="760.7" y2="771.2" stroke="#fff" stroke-opacity=".7" stroke-width="1.5"/>
<line x1="1552.5" x2="1552.5" y1="801" y2="811.5" stroke="#fff" stroke-opacity=".7" stroke-width="1.5"/>
<line x1="1658" x2="1658" y1="760.7" y2="771.2" stroke="#fff" stroke-opacity=".7" stroke-width="1.5"/>
<line x1="1658" x2="1658" y1="801" y2="811.5" stroke="#fff" stroke-opacity=".7" stroke-width="1.5"/>
<text transform="translate(1435 800.1) scale(0.8760 1)" font-size="32.4" fill="#000" stroke="#000" stroke-width="0.4" stroke-linejoin="round" text-anchor="end">FDR</text>
<text transform="translate(1447 846.1) scale(0.9110 1)" font-size="25.8" fill="#000" stroke="#000" stroke-width="0.4" stroke-linejoin="round" text-anchor="middle">0.00</text>
<text transform="translate(1552.5 846.1) scale(0.9110 1)" font-size="25.8" fill="#000" stroke="#000" stroke-width="0.4" stroke-linejoin="round" text-anchor="middle">0.02</text>
<text transform="translate(1658 846.1) scale(0.9110 1)" font-size="25.8" fill="#000" stroke="#000" stroke-width="0.4" stroke-linejoin="round" text-anchor="middle">0.04</text>
</g>
</svg>
</body>
</html>
